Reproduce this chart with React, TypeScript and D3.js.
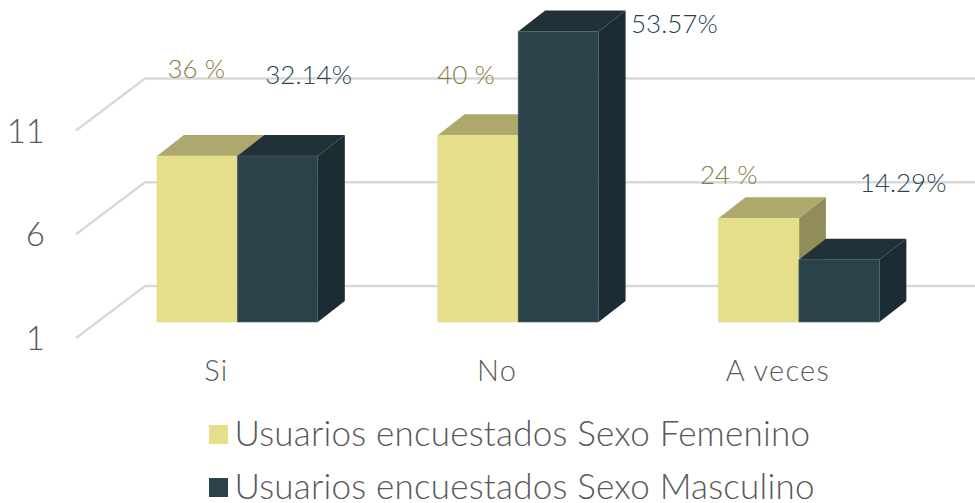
import { axisBottom, axisLeft, range, scaleBand, scaleLinear, select } from "d3";
import React, { useEffect, useRef } from "react";

const categories = ["Si", "No", "A veces"];
const seriesNames = ["Usuarios encuestados Sexo Femenino", "Usuarios encuestados Sexo Masculino"];
const femenino = [9, 10, 6];
const masculino = [9, 15, 4];
const femeninoLabels = ["36 %", "40 %", "24 %"];
const masculinoLabels = ["32.14%", "53.57%", "14.29%"];
const yTicks = [1, 6, 11];

const width = 975;
const height = 503;
const font = "Lato, 'Open Sans', sans-serif";

// hand placed labels in the original, offsets from the bar's top centre
const labelOffsets = [
  [[-1, -87], [-12, -60], [-30, -43]],
  [[31, -81], [116, -8], [64, -77]],
];

const colors = [
  { front: "#e5df8b", top: "#ada86b", side: "#918d5a", label: "#877d42", edge: "#e5df8b" },
  { front: "#2b424b", top: "#203238", side: "#1b2d32", label: "#264450", edge: "#4f636b" },
];

export default function App() {
  const ref = useRef<SVGSVGElement>(null);

  useEffect(() => {
    const svg = select(ref.current);
    svg.selectAll("*").remove();

    // floor of the 3d box: front edge to back wall
    const wall = { dx: 69, dy: -52 };
    const inset = { dx: 21, dy: -16 };
    const depth = { dx: 27, dy: -21 };

    const x = scaleBand().domain(categories).range([76, 918.3]).paddingInner(0.427).paddingOuter(0.2135);
    const x1 = scaleBand().domain(["0", "1"]).range([0, x.bandwidth()]);
    const y = scaleLinear().domain([1, 11]).range([338, 130.5]);

    // gridlines
    const grid = svg.append("g").attr("fill", "none").attr("stroke", "#d9d9d9").attr("stroke-width", 2.4);
    yTicks.forEach((t) => {
      grid
        .append("path")
        .attr("d", `M76,${y(t)}L${76 + wall.dx},${y(t) + wall.dy}L${width},${y(t) + wall.dy}`);
    });

    // axes
    const yAxis = svg
      .append("g")
      .attr("transform", "translate(45,1)")
      .call(axisLeft(y).tickValues(yTicks).tickSize(0).tickPadding(0));
    yAxis.select(".domain").remove();
    yAxis
      .selectAll("text")
      .attr("font-family", font)
      .attr("font-weight", 300)
      .attr("font-size", 33)
      .attr("fill", "#595959");

    const xAxis = svg
      .append("g")
      .attr("transform", "translate(0,360)")
      .call(axisBottom(x).tickSize(0).tickPadding(0));
    xAxis.select(".domain").remove();
    xAxis
      .selectAll("text")
      .attr("font-family", font)
      .attr("font-weight", 300)
      .attr("font-size", 29)
      .attr("letter-spacing", 1.3)
      .attr("fill", "#595959");

    // bars, first series first so the second one covers its side
    [femenino, masculino].forEach((values, s) => {
      const c = colors[s];
      const g = svg.append("g");
      categories.forEach((cat, i) => {
        const x0 = x(cat)! + x1(String(s))! + inset.dx;
        const x2 = x0 + x1.bandwidth();
        const top = y(values[i]) + inset.dy;
        const base = y(1) + inset.dy;
        g.append("path")
          .attr("fill", c.top)
          .attr("d", `M${x0},${top}L${x0 + depth.dx},${top + depth.dy}L${x2 + depth.dx},${top + depth.dy}L${x2},${top}Z`);
        g.append("path")
          .attr("fill", c.side)
          .attr("d", `M${x2},${top}L${x2 + depth.dx},${top + depth.dy}L${x2 + depth.dx},${base + depth.dy}L${x2},${base}Z`);
        g.append("rect")
          .attr("x", x0)
          .attr("y", top)
          .attr("width", x1.bandwidth())
          .attr("height", base - top)
          .attr("fill", c.front)
          .attr("stroke", c.edge)
          .attr("stroke-width", 0.6);
      });
    });

    // value labels
    [femeninoLabels, masculinoLabels].forEach((labels, s) => {
      const values = s === 0 ? femenino : masculino;
      svg
        .append("g")
        .selectAll("text")
        .data(range(categories.length))
        .join("text")
        .attr("x", (i) => x(categories[i])! + x1(String(s))! + inset.dx + x1.bandwidth() / 2 + labelOffsets[s][i][0])
        .attr("y", (i) => y(values[i]) + inset.dy + labelOffsets[s][i][1])
        .attr("dy", "0.35em")
        .attr("text-anchor", "middle")
        .attr("font-family", font)
        .attr("font-weight", 300)
        .attr("font-size", 26)
        .attr("fill", colors[s].label)
        .text((i) => labels[i]);
    });

    // legend
    const legend = svg
      .append("g")
      .selectAll("g")
      .data(seriesNames)
      .join("g")
      .attr("transform", (_, i) => `translate(209,${425 + i * 53})`);
    legend
      .append("rect")
      .attr("width", 19)
      .attr("height", 19)
      .attr("fill", (_, i) => colors[i].front);
    legend
      .append("text")
      .attr("x", 25.5)
      .attr("y", 21)
      .attr("font-family", font)
      .attr("font-weight", 300)
      .attr("font-size", 35)
      .attr("letter-spacing", 0.22)
      .attr("fill", "#595959")
      .text((d) => d);
  }, []);

  return (
    <svg
      ref={ref}
      width={width}
      height={height}
      viewBox={`0 0 ${width} ${height}`}
      style={{ position: "absolute", left: 0, top: 0, background: "#fff" }}
    />
  );
}
